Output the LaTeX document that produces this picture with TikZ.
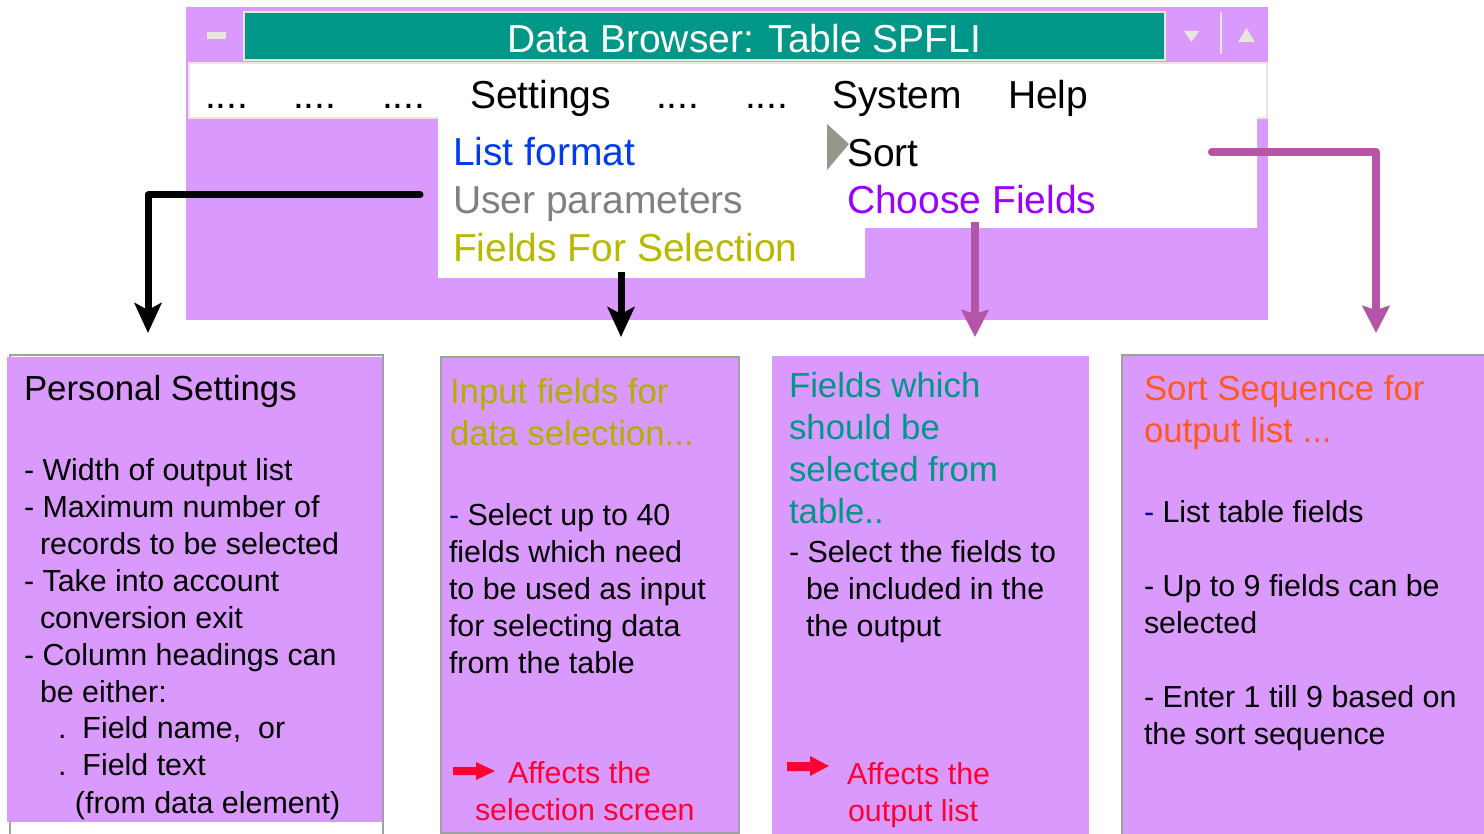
\documentclass[tikz,border=0pt]{standalone}
\usepackage{fontspec}
\setmainfont{Liberation Sans}
\usetikzlibrary{arrows.meta}
\definecolor{wpurple}{RGB}{218,153,252}
\definecolor{wteal}{RGB}{0,150,136}
\definecolor{wframe}{RGB}{232,230,220}
\definecolor{lblue}{RGB}{0,60,235}
\definecolor{ugray}{RGB}{128,128,128}
\definecolor{folive}{RGB}{184,184,0}
\definecolor{holive}{RGB}{176,176,0}
\definecolor{cpurple}{RGB}{153,0,255}
\definecolor{sorange}{RGB}{255,90,30}
\definecolor{ared}{RGB}{255,0,51}
\definecolor{amag}{RGB}{180,85,168}
\definecolor{tgray}{RGB}{150,150,140}
\definecolor{bgray}{RGB}{160,160,160}
\definecolor{dnavy}{RGB}{0,0,140}
\newcommand\menufnt{\fontsize{39}{47}\selectfont}
\newcommand\headfnt{\fontsize{34.8}{42}\selectfont}
\newcommand\bodyfnt{\fontsize{30.4}{37}\selectfont}
\tikzset{
  txt/.style={anchor=base west, inner sep=0pt, outer sep=0pt},
  menutxt/.style={txt, font=\menufnt},
  blkarrow/.style={draw=black, line width=7pt, line cap=round, line join=round,
    -{Stealth[length=30pt,width=27pt,inset=7pt]}},
  magarrow/.style={draw=amag, line width=8pt, line cap=round, line join=round,
    -{Stealth[length=27pt,width=27pt,inset=4pt]}},
  redarrow/.style={fill=ared},
}
\begin{document}
\begin{tikzpicture}[x=1pt,y=-1pt]
\useasboundingbox (0,0) rectangle (1484,834);
% ---------- window ----------
\fill[wpurple] (186,7) rectangle (1268,320);
\fill[wframe] (243,11) rectangle (1166,61);
\fill[wteal] (245,13) rectangle (1164,59);
\fill[wframe] (207,32) rectangle (226,39);
\fill[wframe] (1184,31) -- (1199,31) -- (1191.5,42) -- cycle;
\draw[wframe, line width=2pt] (1221,12) -- (1221,54);
\fill[wframe] (1238,42) -- (1255,42) -- (1246.5,28) -- cycle;
\node[menutxt, text=white] (title) at (507,53) {Data Browser: Table SPFLI};
% menu bar
\filldraw[fill=white, draw=wframe, line width=2pt] (189,63) rectangle (1267,118);
% dropdown
\fill[white] (438,117) -- (1257,117) -- (1257,228) -- (865,228) -- (865,278) -- (438,278) -- cycle;
\node[menutxt] (m1) at (205,109) {....};
\node[menutxt] (m2) at (293,109) {....};
\node[menutxt] (m3) at (382,109) {....};
\node[menutxt] (settings) at (470,109) {Settings};
\node[menutxt] (m4) at (656,109) {....};
\node[menutxt] (m5) at (745,109) {....};
\node[menutxt] (system) at (832,109) {System};
\node[menutxt] (help) at (1008,109) {Help};
\node[menutxt, text=lblue] (listfmt) at (453,166) {List format};
\node[menutxt, text=ugray] (uparam) at (453,214) {User parameters};
\node[menutxt, text=folive] (fsel) at (453,262) {Fields For Selection};
\fill[tgray] (827,124) -- (849,144) -- (827,170) -- cycle;
\node[menutxt] (sort) at (847,167) {Sort};
\node[menutxt, text=cpurple] (choose) at (847,214) {Choose Fields};
% ---------- boxes ----------
\draw[bgray, line width=2pt] (10,355) rectangle (383,845);
\fill[wpurple] (7,357) rectangle (382,822);
\filldraw[fill=wpurple, draw=bgray, line width=2pt] (441,357) rectangle (739,833);
\fill[wpurple] (772,356) rectangle (1089,836);
\filldraw[fill=wpurple, draw=bgray, line width=2pt] (1122,355) rectangle (1490,845);
% box 1
\node[txt, font=\headfnt] (b1h) at (24,400) {Personal Settings};
\node[txt] (b1t) at (24,480) {\parbox[t]{400pt}{\bodyfnt\raggedright\leavevmode
- Width of output list\\
- Maximum number of\\
\hspace*{16pt}records to be selected\\
- Take into account\\
\hspace*{16pt}conversion exit\\
- Column headings can\\
\hspace*{16pt}be either:\\
\hspace*{34pt}.\hspace*{16pt}Field name,\ \ or\\
\hspace*{34pt}.\hspace*{16pt}Field text\\
\hspace*{51pt}(from data element)}};
% box 2
\node[txt, text=holive] (b2h) at (450,403) {\parbox[t]{300pt}{\headfnt\raggedright\leavevmode
Input fields for\\data selection...}};
\node[txt] (b2t) at (449,525) {\parbox[t]{300pt}{\bodyfnt\raggedright\leavevmode
{\color{dnavy}-} Select up to 40\\
fields which need\\
to be used as input\\
for selecting data\\
from the table}};
\fill[redarrow] (453,767) -- (476,767) -- (476,762) -- (495,771) -- (476,780) -- (476,775) -- (453,775) -- cycle;
\node[txt, font=\bodyfnt, text=ared] (b2r1) at (508,783) {Affects the};
\node[txt, font=\bodyfnt, text=ared] (b2r2) at (475,820) {selection screen};
% box 3
\node[txt, text=wteal] (b3h) at (789,398) {\parbox[t]{300pt}{\headfnt\raggedright\leavevmode
Fields which\\should be\\selected from\\table..}};
\node[txt] (b3t) at (789,562) {\parbox[t]{300pt}{\bodyfnt\raggedright\leavevmode
- Select the fields to\\
\hspace*{17pt}be included in the\\
\hspace*{17pt}the output}};
\fill[redarrow] (787,762) -- (810,762) -- (810,756) -- (829,766) -- (810,776) -- (810,771) -- (787,771) -- cycle;
\node[txt, font=\bodyfnt, text=ared] (b3r1) at (847,784) {Affects the};
\node[txt, font=\bodyfnt, text=ared] (b3r2) at (848,821) {output list};
% box 4
\node[txt, text=sorange] (b4h) at (1144,400) {\parbox[t]{340pt}{\headfnt\raggedright\leavevmode
Sort Sequence for\\output list ...}};
\node[txt] (b4t) at (1144,522) {\parbox[t]{340pt}{\bodyfnt\raggedright\leavevmode
{\color{dnavy}-} List table fields\\[37pt]
- Up to 9 fields can be\\
selected\\[37pt]
- Enter 1 till 9 based on\\
the sort sequence}};
% ---------- connectors ----------
\coordinate (a1s) at (420,195);
\coordinate (a1e) at (148,333);
\coordinate (a2s) at (621,272);
\coordinate (a2e) at (621,337);
\coordinate (a3s) at (975,222);
\coordinate (a3e) at (975,337);
\coordinate (a4s) at (1212,152);
\coordinate (a4e) at (1376,333);
\draw[blkarrow] (a1s) -| (a1e);
\draw[blkarrow, line cap=butt] (a2s) -- (a2e);
\draw[magarrow, line cap=butt] (a3s) -- (a3e);
\draw[magarrow] (a4s) -| (a4e);
\end{tikzpicture}
\end{document}
